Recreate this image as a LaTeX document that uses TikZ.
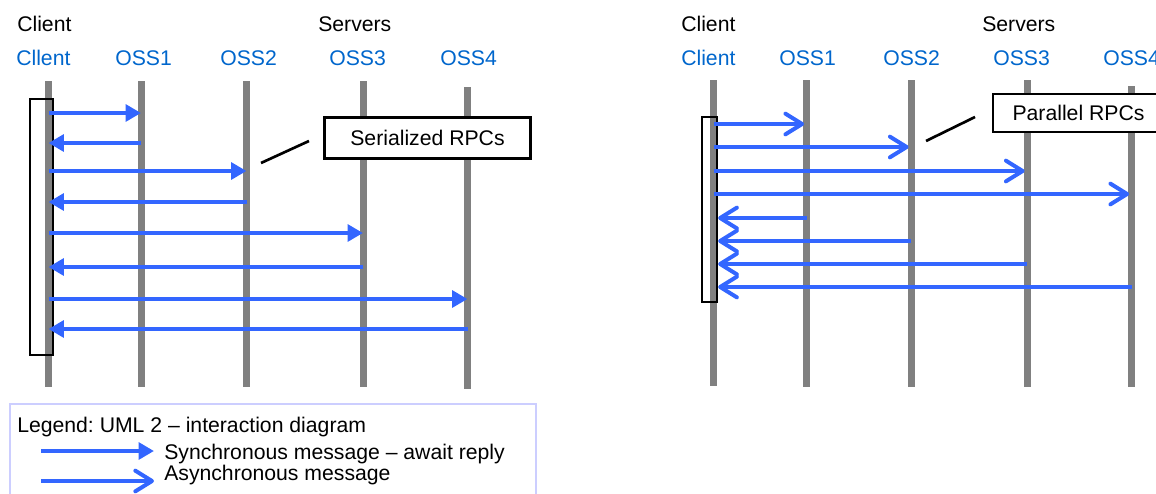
\documentclass[tikz,border=0pt]{standalone}
\usepackage{fontspec}
\setmainfont{Liberation Sans}
\usetikzlibrary{arrows.meta}
\definecolor{msgblue}{RGB}{51,102,255}
\definecolor{lblblue}{RGB}{0,102,204}
\definecolor{lifegray}{RGB}{128,128,128}
\definecolor{legendborder}{RGB}{204,206,255}
\frenchspacing
\begin{document}
\begin{tikzpicture}[x=0.75pt,y=-0.75pt,
  txt/.style={inner sep=0pt,anchor=base west,font=\fontsize{15.9}{19}\selectfont},
  head/.style={txt,text=black},
  lbl/.style={txt,text=lblblue},
  lifeline/.style={draw=lifegray,line width=5.25pt},
  actbox/.style={draw=black,line width=1.75pt,inner sep=0pt},
  notebox/.style={draw=black,line width=2pt,fill=white,inner sep=0pt,font=\fontsize{15.9}{19}\selectfont},
  pointer/.style={draw=black,line width=2pt},
  sync/.style={draw=msgblue,line width=3pt,-{Triangle[length=11.5pt,width=12.5pt]}},
  async/.style={draw=msgblue,line width=3pt,-{Straight Barb[length=12.5pt,width=15.5pt,line cap=round,line join=round]}},
  legendbox/.style={draw=legendborder,line width=1.5pt,inner sep=0pt}
]
\useasboundingbox (0,0) rectangle (1156,493);
\clip (0,0) rectangle (1156,493);

% ---------------- Left panel ----------------
\node[head] (hcl) at (17,31) {Client};
\node[head] (hsl) at (318,31) {Servers};
\node[lbl] (ncl0) at (16,65) {Cllent};
\node[lbl] (ncl1) at (115,65) {OSS1};
\node[lbl] (ncl2) at (220,65) {OSS2};
\node[lbl] (ncl3) at (329,65) {OSS3};
\node[lbl] (ncl4) at (440,65) {OSS4};

\coordinate (l0t) at (48.5,81);  \coordinate (l0b) at (48.5,387);
\coordinate (l1t) at (141,81);   \coordinate (l1b) at (141,387);
\coordinate (l2t) at (246.5,81); \coordinate (l2b) at (246.5,387);
\coordinate (l3t) at (363,81);   \coordinate (l3b) at (363,387);
\coordinate (l4t) at (467.5,87); \coordinate (l4b) at (467.5,389);
\foreach \i in {0,...,4} {\draw[lifeline] (l\i t) -- (l\i b);}

\node[actbox,minimum width=17.25pt,minimum height=192pt] (actL) at (41.5,227) {};

\draw[sync] (l0t |- 0,113) -- (l1t |- 0,113);
\draw[sync] (l1t |- 0,143) -- (l0t |- 0,143);
\draw[sync] (l0t |- 0,171) -- (l2t |- 0,171);
\draw[sync] (l2t |- 0,202) -- (l0t |- 0,202);
\draw[sync] (l0t |- 0,233) -- (l3t |- 0,233);
\draw[sync] (l3t |- 0,267) -- (l0t |- 0,267);
\draw[sync] (l0t |- 0,299) -- (l4t |- 0,299);
\draw[sync] (l4t |- 0,329) -- (l0t |- 0,329);

\node[notebox,minimum width=154.5pt,minimum height=30.75pt] (ser) at (427.5,138) {Serialized RPCs};
\coordinate (serp1) at (261,163);
\coordinate (serp2) at (309,141);
\draw[pointer] (serp1) -- (serp2);

% legend
\node[legendbox,anchor=north west,minimum width=394.5pt,minimum height=90pt] (legend) at (9,403) {};
\node[head] (legt) at (17,432) {Legend: UML 2 -- interaction diagram};
\coordinate (ls1) at (41,451); \coordinate (ls2) at (154,451);
\coordinate (la1) at (41,481); \coordinate (la2) at (154,481);
\draw[sync] (ls1) -- (ls2);
\draw[async] (la1) -- (la2);
\node[head] (legs) at (164,459) {Synchronous message -- await reply};
\node[head] (lega) at (164,480) {Asynchronous message};

% ---------------- Right panel ----------------
\node[head] (hcr) at (681,31) {Client};
\node[head] (hsr) at (982,31) {Servers};
\node[lbl] (ncr0) at (681,65) {Client};
\node[lbl] (ncr1) at (779,65) {OSS1};
\node[lbl] (ncr2) at (883,65) {OSS2};
\node[lbl] (ncr3) at (993,65) {OSS3};
\node[lbl] (ncr4) at (1103,65) {OSS4};

\coordinate (r0t) at (713.5,80); \coordinate (r0b) at (713.5,386);
\coordinate (r1t) at (806.5,80); \coordinate (r1b) at (806.5,387);
\coordinate (r2t) at (911,80);   \coordinate (r2b) at (911,387);
\coordinate (r3t) at (1027,80);  \coordinate (r3b) at (1027,387);
\coordinate (r4t) at (1131.5,86);\coordinate (r4b) at (1131.5,387);
\foreach \i in {0,...,4} {\draw[lifeline] (r\i t) -- (r\i b);}

\node[actbox,minimum width=11.25pt,minimum height=138.75pt] (actR) at (709.5,209.5) {};

\draw[async] (r0t |- 0,124) -- ([xshift=-1.8pt]r1t |- 0,124);
\draw[async] (r0t |- 0,147) -- ([xshift=-1.8pt]r2t |- 0,147);
\draw[async] (r0t |- 0,171) -- ([xshift=-1.8pt]r3t |- 0,171);
\draw[async] (r0t |- 0,194) -- ([xshift=-1.8pt]r4t |- 0,194);
\draw[async] (r1t |- 0,218) -- (actR.east |- 0,218);
\draw[async] (r2t |- 0,241) -- (actR.east |- 0,241);
\draw[async] (r3t |- 0,264) -- (actR.east |- 0,264);
\draw[async] (r4t |- 0,287) -- (actR.east |- 0,287);

\node[notebox,minimum width=128.25pt,minimum height=28.5pt] (par) at (1078.5,113) {Parallel RPCs};
\coordinate (parp1) at (926,141);
\coordinate (parp2) at (975,117);
\draw[pointer] (parp1) -- (parp2);
\end{tikzpicture}
\end{document}
